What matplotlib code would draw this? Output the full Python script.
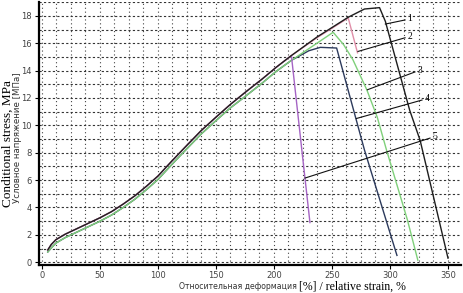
import numpy as np
import matplotlib
matplotlib.use("Agg")
import matplotlib.pyplot as plt
from matplotlib.ticker import MultipleLocator

# rising branch shared by curves 1, 2, 5 (upper) and 3, 4 (lower)
up_x = [5, 8, 12, 20, 30, 40, 50, 60, 70, 80, 90, 100, 112, 125, 137, 150, 162, 175, 190, 202, 215]
up_y = [0.9, 1.3, 1.65, 2.05, 2.45, 2.85, 3.25, 3.7, 4.25, 4.85, 5.55, 6.3, 7.4, 8.55, 9.6, 10.6, 11.5, 12.4, 13.4, 14.25, 15.1]
lo_x = [5, 8, 12, 20, 30, 40, 50, 60, 70, 80, 90, 100, 112, 125, 137, 150, 162, 175, 190, 202, 215]
lo_y = [0.75, 1.05, 1.4, 1.8, 2.2, 2.6, 3.0, 3.45, 4.0, 4.6, 5.3, 6.05, 7.15, 8.3, 9.35, 10.35, 11.25, 12.1, 13.1, 13.95, 14.75]

# curve 1 (black)
c1_x = up_x + [237, 264, 278, 291, 296, 317, 326, 350]
c1_y = up_y + [16.45, 17.9, 18.5, 18.6, 17.6, 11.1, 8.9, 0.3]
# curve 2 (pink)
c2_x = up_x + [237, 264, 272]
c2_y = up_y + [16.4, 17.85, 15.3]
# curve 3 (green)
c3_x = lo_x + [237, 251, 260, 268, 280, 289, 297, 315, 324]
c3_y = lo_y + [16.0, 16.8, 15.9, 14.8, 12.6, 10.6, 8.2, 3.1, 0.15]
# curve 4 (dark blue)
c4_x = lo_x + [230, 240, 254, 278, 306]
c4_y = lo_y + [15.45, 15.7, 15.65, 8.2, 0.5]
# curve 5 (purple)
c5_x = up_x + [224, 231]
c5_y = up_y + [8.2, 2.9]

# leader lines for curve numbers: start on curve, end near label
lead_names = ["1", "2", "3", "4", "5"]
lead_x0 = [296, 272.4, 280.5, 271, 226.7]
lead_y0 = [17.4, 15.4, 12.6, 10.5, 6.15]
lead_x1 = [313, 313, 321.5, 327.6, 334.5]
lead_y1 = [17.7, 16.4, 13.9, 11.85, 9.07]

fig = plt.figure(figsize=(4.64, 2.93), dpi=100)
ax = fig.add_axes([0.084, 0.0956, 0.909, 0.897])

ax.plot(c4_x, c4_y, color="#2c3a5c", lw=1.0)
ax.plot(c3_x, c3_y, color="#7fd07a", lw=1.0)
ax.plot(c5_x, c5_y, color="#a564c4", lw=1.0)
ax.plot(c2_x, c2_y, color="#e08ea8", lw=1.0)
ax.plot(c1_x, c1_y, color="#1e1e1e", lw=1.0)

for i in range(len(lead_names)):
    ax.plot([lead_x0[i], lead_x1[i]], [lead_y0[i], lead_y1[i]], color="#111", lw=0.8)
    ax.text(lead_x1[i] + 2, lead_y1[i] + 0.1, lead_names[i], fontsize=7,
            family="Liberation Serif", ha="left", va="center")

ax.set_xlim(-2.6, 361)
ax.set_ylim(-0.2, 19.0)
ax.xaxis.set_major_locator(MultipleLocator(50))
ax.xaxis.set_minor_locator(MultipleLocator(12.5))
ax.yaxis.set_major_locator(MultipleLocator(2))
ax.yaxis.set_minor_locator(MultipleLocator(1))

ax.grid(True, axis="x", which="both", color="#444", lw=0.8, ls=(0, (1, 2.5)))
ax.grid(True, axis="y", which="both", color="#333", lw=0.8, ls=(0, (2, 2)))
ax.set_axisbelow(True)

for s in ["top", "right"]:
    ax.spines[s].set_visible(False)
ax.spines["left"].set_linewidth(1.6)
ax.spines["bottom"].set_linewidth(1.6)
ax.tick_params(which="major", length=3, width=0.8, labelsize=6, labelcolor="#444", pad=2)
ax.tick_params(axis="x", pad=1.5)
ax.tick_params(which="minor", length=0)

fig.text(0.016, 0.51, "Conditional stress, MPa", rotation=90, ha="center", va="center",
         fontsize=9.5, family="Liberation Serif")
fig.text(0.037, 0.53, "Условное напряжение [МПа]", rotation=90, ha="center", va="center",
         fontsize=6.2, family="DejaVu Sans", color="#333")
fig.text(0.645, 0.021, "Относительная деформация ", ha="right", va="center",
         fontsize=5.6, family="DejaVu Sans", color="#333")
fig.text(0.645, 0.021, "[%] / relative strain, %", ha="left", va="center",
         fontsize=8.5, family="Liberation Serif")

fig.savefig("out.png", dpi=100)
